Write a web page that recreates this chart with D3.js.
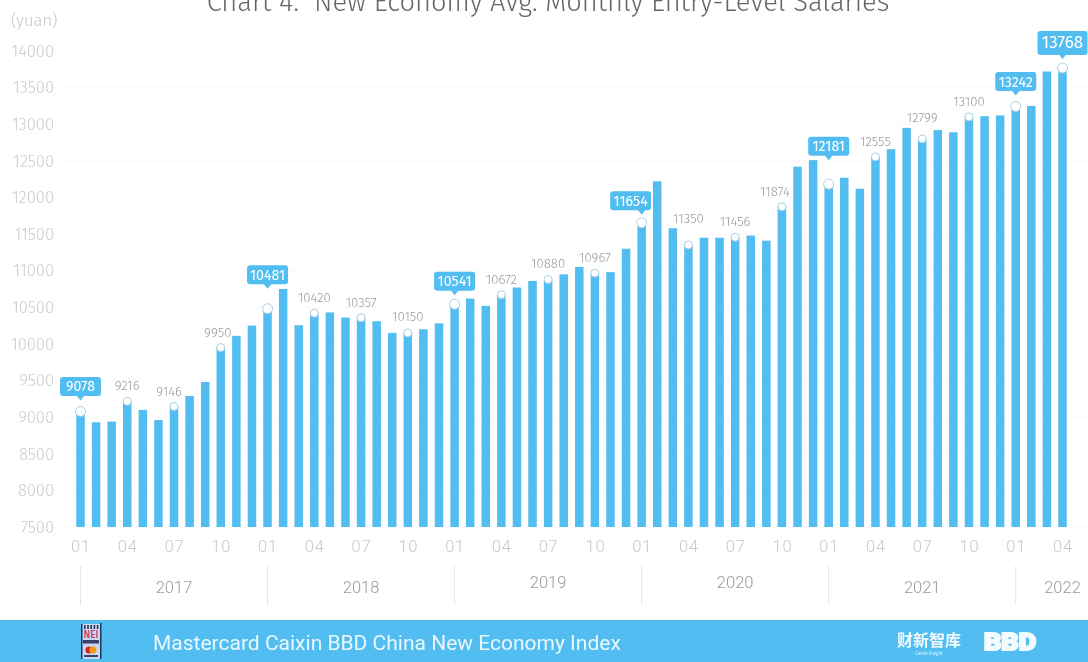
<!DOCTYPE html>
<html><head><meta charset="utf-8">
<script src="https://cdn.jsdelivr.net/npm/d3@7/dist/d3.min.js"></script>
<style>html,body{margin:0;padding:0;background:#fff}svg{display:block;filter:blur(0.4px)}text{font-family:"Fira Sans",Roboto,sans-serif}</style>
</head><body><svg id="chart" width="1088" height="662"></svg>
<script>
const years = [2017, 2018, 2019, 2020, 2021, 2022];
const monthsPerYear = [12, 12, 12, 12, 12, 4];
const salaries = [
  9078, 8930, 8940, 9216, 9100, 8960, 9146, 9290, 9480, 9950, 10110, 10250,
  10481, 10750, 10255, 10420, 10430, 10360, 10357, 10310, 10150, 10150, 10200, 10280,
  10541, 10620, 10520, 10672, 10770, 10860, 10880, 10950, 11050, 10967, 10980, 11300,
  11654, 12220, 11580, 11350, 11450, 11450, 11456, 11480, 11410, 11874, 12420, 12510,
  12181, 12270, 12120, 12555, 12660, 12950, 12799, 12920, 12890, 13100, 13110, 13120,
  13242, 13250, 13720, 13768
];
const yTicks = [7500, 8000, 8500, 9000, 9500, 10000, 10500, 11000, 11500, 12000, 12500, 13000, 13500, 14000];
const calloutMonths = [0, 12, 24, 36, 48, 60, 63];
const plainLabelMonths = [3, 6, 9, 15, 18, 21, 27, 30, 33, 39, 42, 45, 51, 54, 57];

const BLUE = "#52bdf0";
const svg = d3.select("#chart");

const monthIndex = d3.range(salaries.length);
const x = d3.scaleLinear().domain([0, 63]).range([80.5, 1062.5]);
const y = d3.scaleLinear().domain([7500, 14000]).range([527, 51]);

// Faint horizontal rules and the value axis
const yAxis = d3.axisLeft(y).tickValues(yTicks).tickSize(0).tickPadding(0).tickFormat(d3.format("d"));
const yG = svg.append("g").attr("transform", "translate(54,0)").call(yAxis);
yG.select(".domain").remove();
yG.selectAll("text").attr("fill", "#cbcbcb").attr("font-size", 16.5).attr("font-weight", 300);
svg.append("g").selectAll("line").data(yTicks).join("line")
  .attr("x1", 63).attr("x2", 1088).attr("y1", d => y(d)).attr("y2", d => y(d))
  .attr("stroke", "#f9f9f9").attr("stroke-width", 1);

svg.append("text").attr("x", 11).attr("y", 26).attr("font-size", 16.5).attr("font-weight", 300)
  .attr("fill", "#c6c6c6").text("(yuan)");

svg.append("text").attr("x", 548).attr("y", 11).attr("text-anchor", "middle")
  .attr("font-size", 27.3).attr("font-weight", 300).attr("fill", "#666")
  .attr("xml:space", "preserve").style("white-space", "pre")
  .text("Chart 4:  New Economy Avg. Monthly Entry-Level Salaries");

// Monthly bars
svg.append("g").selectAll("rect").data(monthIndex).join("rect")
  .attr("x", i => x(i) - 4.25).attr("width", 8.5)
  .attr("y", i => y(salaries[i])).attr("height", i => y(7500) - y(salaries[i]))
  .attr("fill", BLUE);

// Month ticks, every third month
const monthAxis = d3.axisBottom(x).tickValues(d3.range(0, salaries.length, 3)).tickSize(0).tickPadding(0)
  .tickFormat(i => String((i % 12) + 1).padStart(2, "0"));
const mG = svg.append("g").attr("transform", "translate(0,540)").call(monthAxis);
mG.select(".domain").remove();
mG.selectAll("text").attr("fill", "#c9c9c9").attr("font-size", 16.5).attr("font-weight", 300)
  .style("font-family", "Roboto").attr("letter-spacing", 0.8);

// Year bands below the months
const yearStarts = d3.cumsum([0].concat(monthsPerYear.slice(0, -1)));
const yearLabelDrop = { 2019: -5, 2020: -5 };
svg.append("g").selectAll("line").data(yearStarts).join("line")
  .attr("x1", d => x(d)).attr("x2", d => x(d)).attr("y1", 566).attr("y2", 605)
  .attr("stroke", "#e6e6e6").attr("stroke-width", 1);
svg.append("g").selectAll("text").data(years).join("text")
  .attr("x", (d, i) => i === 5 ? x(yearStarts[i] + 3) : x(yearStarts[i] + 6))
  .attr("y", d => 593 + (yearLabelDrop[d] || 0))
  .attr("text-anchor", "middle").attr("font-size", 16.5).attr("font-weight", 300).attr("fill", "#999")
  .style("font-family", "Roboto")
  .text(d => d);

// Point markers
const allMarked = calloutMonths.concat(plainLabelMonths);
svg.append("g").selectAll("circle").data(allMarked).join("circle")
  .attr("cx", i => x(i)).attr("cy", i => y(salaries[i]))
  .attr("r", i => calloutMonths.includes(i) ? 5 : 4)
  .attr("fill", "#fff").attr("stroke", "#a9cfe2").attr("stroke-width", 1);

// Grey value labels; a few sit further from their point or slide sideways
const plainNudge = { 6: [-5, 1], 9: [-3, 0], 21: [0, -1], 39: [0, -11], 45: [-7, 0], 54: [0, -6] };
svg.append("g").selectAll("text").data(plainLabelMonths).join("text")
  .attr("x", i => x(i) + (plainNudge[i] ? plainNudge[i][0] : 0))
  .attr("y", i => y(salaries[i]) - 11 + (plainNudge[i] ? plainNudge[i][1] : 0))
  .attr("text-anchor", "middle").attr("font-size", 13.2).attr("font-weight", 300).attr("fill", "#999")
  .text(i => salaries[i]);

// Blue callouts: lift above the point, sideways shift of the box
const lift = { 0: 25, 12: 34, 24: 23, 36: 22, 48: 38, 60: 25, 63: 25 };
const shift = { 36: -11 };
const callouts = svg.append("g").selectAll("g").data(calloutMonths).join("g");
callouts.append("rect")
  .attr("x", i => x(i) + (shift[i] || 0) - (i === 63 ? 25 : 20.5))
  .attr("y", i => y(salaries[i]) - lift[i] - (i === 63 ? 12 : 9.5))
  .attr("width", i => i === 63 ? 50 : 41).attr("height", i => i === 63 ? 24 : 19)
  .attr("rx", 3).attr("fill", BLUE);
callouts.append("path")
  .attr("d", i => {
    const px = x(i), base = y(salaries[i]) - lift[i] + (i === 63 ? 11 : 9);
    return d3.line()([[px - 4, base], [px + 4, base], [px, base + 5]]);
  })
  .attr("fill", BLUE);
callouts.append("text")
  .attr("x", i => x(i) + (shift[i] || 0))
  .attr("y", i => y(salaries[i]) - lift[i] + (i === 63 ? 5.5 : 5))
  .attr("text-anchor", "middle").attr("fill", "#fff")
  .attr("font-size", i => i === 63 ? 17 : 14.2).attr("font-weight", 400)
  .text(i => salaries[i]);

// Footer band
svg.append("rect").attr("x", 0).attr("y", 620).attr("width", 1088).attr("height", 42).attr("fill", BLUE);
svg.append("text").attr("x", 153).attr("y", 650).attr("font-size", 21).attr("font-weight", 400)
  .style("font-family", "Roboto").attr("fill", "#e9f7fe")
  .text("Mastercard Caixin BBD China New Economy Index");

// Index badge on the footer band
const badge = svg.append("g").attr("transform", "translate(81,624)");
badge.append("rect").attr("width", 20).attr("height", 35).attr("fill", "#c4dcee");
badge.append("rect").attr("x", 19).attr("y", -1).attr("width", 1.5).attr("height", 36).attr("fill", "#27305e");
badge.append("rect").attr("width", 1.5).attr("height", 35).attr("fill", "#27305e");
d3.range(5).forEach(k => badge.append("rect").attr("x", 3 + k * 3.2).attr("y", 1).attr("width", 1.6).attr("height", 4).attr("fill", "#27305e"));
badge.append("text").attr("x", 10).attr("y", 14).attr("text-anchor", "middle").attr("font-size", 10).attr("font-weight", 500).attr("fill", "#d23b6c").text("NEI");
badge.append("rect").attr("x", 2).attr("y", 16).attr("width", 16).attr("height", 3.5).attr("fill", "#3a4170");
badge.append("circle").attr("cx", 8).attr("cy", 26).attr("r", 3.6).attr("fill", "#d9222a");
badge.append("circle").attr("cx", 12).attr("cy", 26).attr("r", 3.6).attr("fill", "#f49a1f");
badge.append("rect").attr("x", 3).attr("y", 31).attr("width", 14).attr("height", 2).attr("fill", "#3a4170");

svg.append("text").attr("x", 897).attr("y", 646).style("font-family", "'Noto Sans CJK SC'")
  .attr("font-size", 16).attr("font-weight", 700).attr("fill", "#f2fbff").text("财新智库");
svg.append("text").attr("x", 929).attr("y", 655).attr("text-anchor", "middle").attr("font-size", 4.5).attr("fill", "#dff4fd").text("Caixin Insight");
svg.append("text").attr("x", 984).attr("y", 650).attr("font-size", 23).attr("font-weight", 900)
  .attr("fill", "#f4fbff").attr("stroke", "#f4fbff").attr("stroke-width", 2)
  .attr("textLength", 52).attr("lengthAdjust", "spacingAndGlyphs").style("font-family", "Roboto").text("BBD");
</script></body></html>
